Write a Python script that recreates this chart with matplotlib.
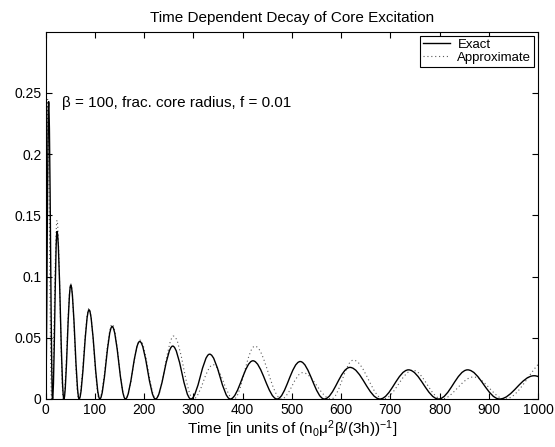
# Decay of core excitation: exact vs approximate, redrawn from the figure
import matplotlib
matplotlib.use('Agg')
import matplotlib.pyplot as plt
from matplotlib.path import Path
from matplotlib.patches import PathPatch
from matplotlib.lines import Line2D

plt.rcParams['font.family'] = ['Liberation Sans', 'DejaVu Sans']
plt.rcParams['mathtext.fontset'] = 'custom'
plt.rcParams['mathtext.rm'] = 'Liberation Sans'
plt.rcParams['mathtext.it'] = 'Liberation Sans:italic'
plt.rcParams['mathtext.default'] = 'regular'

# troughs (zeros) and peaks of each hump
exact_zero_t = [0, 14, 37, 68, 110, 162, 223, 295, 375, 470, 566, 679, 798, 922, 1062]
exact_peak_t = [6, 23, 51, 88, 135, 191, 258, 333, 421, 517, 618, 737, 857, 992]
exact_peak_y = [0.243, 0.137, 0.093, 0.0728, 0.0592, 0.047, 0.0432, 0.0366,
                0.0312, 0.0306, 0.0258, 0.0238, 0.0238, 0.019]

approx_zero_t = [0, 12, 36, 67, 109, 162, 224, 300, 382, 479, 580, 686, 804, 933, 1110]
approx_peak_t = [4, 23, 51, 88, 135, 192, 260, 340, 425, 522, 625, 746, 869, 1025]
approx_peak_y = [0.245, 0.146, 0.094, 0.074, 0.061, 0.048, 0.0514, 0.028,
                 0.0432, 0.0215, 0.0318, 0.0235, 0.018, 0.034]

x_ticks = [0, 100, 200, 300, 400, 500, 600, 700, 800, 900, 1000]
y_ticks = [0, 0.05, 0.1, 0.15, 0.2, 0.25]
y_tick_labels = ['0', '0.05', '0.1', '0.15', '0.2', '0.25']


def hump_path(zeros, peak_t, peak_y, k=0.36):
    # smooth bezier humps: trough -> peak -> trough
    verts = [(zeros[0], 0.0)]
    codes = [Path.MOVETO]
    for i in range(len(peak_t)):
        a, b = zeros[i], zeros[i + 1]
        tp, h = peak_t[i], peak_y[i]
        verts += [(a + k * (tp - a), 0.0), (tp - k * (tp - a), h), (tp, h),
                  (tp + k * (b - tp), h), (b - k * (b - tp), 0.0), (b, 0.0)]
        codes += [Path.CURVE4] * 6
    return Path(verts, codes)


fig = plt.figure(figsize=(5.55, 4.47), dpi=100)
ax = fig.add_axes([0.0823, 0.1074, 0.8871, 0.8217])

exact_style = dict(color='k', lw=1.0, ls='-')
approx_style = dict(color='0.35', lw=0.8, ls=(0, (1, 2.5)))

ax.add_patch(PathPatch(hump_path(approx_zero_t, approx_peak_t, approx_peak_y),
                       facecolor='none', edgecolor=approx_style['color'],
                       lw=approx_style['lw'], ls=approx_style['ls']))
ax.add_patch(PathPatch(hump_path(exact_zero_t, exact_peak_t, exact_peak_y),
                       facecolor='none', edgecolor=exact_style['color'],
                       lw=exact_style['lw'], ls=exact_style['ls']))

ax.set_xlim(0, 1000)
ax.set_ylim(0, 0.3)
ax.set_xticks(x_ticks)
ax.set_xticklabels([str(v) for v in x_ticks])
ax.set_yticks(y_ticks)
ax.set_yticklabels(y_tick_labels)
ax.tick_params(direction='in', length=4, width=0.8, top=True, right=True,
               labelsize=10, pad=3)
for s in ax.spines.values():
    s.set_linewidth(0.8)

ax.set_title('Time Dependent Decay of Core Excitation', fontsize=11, pad=7)
ax.set_xlabel(r'Time [in units of (n$_0$μ$^2$β/(3h))$^{-1}$]', fontsize=11, labelpad=1)
ax.text(33, 0.242, 'β = 100, frac. core radius, f = 0.01', fontsize=11, va='center')

handles = [Line2D([], [], **exact_style), Line2D([], [], **approx_style)]
leg = ax.legend(handles, ['Exact', 'Approximate'], loc='upper right', fontsize=9.5,
                fancybox=False, edgecolor='k', framealpha=1, borderaxespad=0.3,
                borderpad=0.2, labelspacing=0.1, handlelength=2.0, handletextpad=0.6)
leg.get_frame().set_linewidth(0.8)

fig.savefig('out.png', dpi=100)
